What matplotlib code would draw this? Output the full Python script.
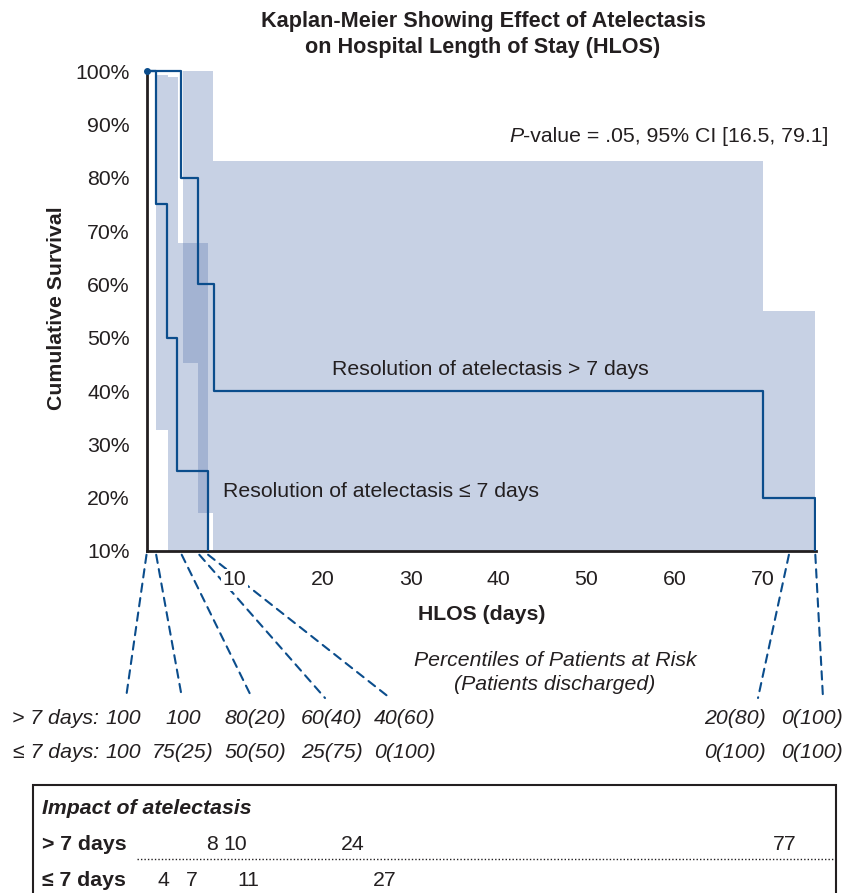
import matplotlib
matplotlib.use("Agg")
import matplotlib.pyplot as plt
from matplotlib.patches import Rectangle, ConnectionPatch
from matplotlib.lines import Line2D

plt.rcParams['font.family'] = ['Liberation Sans', 'DejaVu Sans']

# ---- data -------------------------------------------------------------
# Kaplan-Meier steps (days, % survival)
gt7_t = [0, 3.95, 5.85, 7.65, 70.0, 76.0]
gt7_s = [100, 80, 60, 40, 20, 0]
le7_t = [0, 1.1, 2.35, 3.5, 7.0]
le7_s = [100, 75, 50, 25, 0]

# 95% CI bands (start of each step, lower, upper)
gt7_ci_t = [4.15, 5.85, 7.55, 70.0, 76.0]
gt7_ci_lo = [45.3, 17.1, 0, 0]
gt7_ci_hi = [100, 100, 83.1, 55.0]
le7_ci_t = [1.1, 2.45, 3.6, 7.0]
le7_ci_lo = [32.7, 0, 0]
le7_ci_hi = [99.3, 98.8, 67.7]

# patients at risk, linked to these days
risk_days = [0, 1.1, 4.0, 6.0, 7.0, 73.0, 76.0]
gt7_risk = ["100", "100", "80(20)", "60(40)", "40(60)", "20(80)", "0(100)"]
le7_risk = ["100", "75(25)", "50(50)", "25(75)", "0(100)", "0(100)", "0(100)"]

# impact table
gt7_impact = ["8", "10", "24", "77"]
le7_impact = ["4", "7", "11", "27"]

yticks = [10, 20, 30, 40, 50, 60, 70, 80, 90, 100]
xticks = [10, 20, 30, 40, 50, 60, 70]

# ---- styling ----------------------------------------------------------
W, H = 849, 893
line_c = '#0b4d8c'
band_c = '#5f7ab1'
txt_c = '#231f20'
fs = 15.3


def fx(px):
    return px / W


def fy(py):
    return 1 - py / H


fig = plt.figure(figsize=(W / 100, H / 100), dpi=100)
ax = fig.add_axes([fx(146.5), fy(551), 669.7 / W, (551 - 65.7) / H])
ax.set_xlim(0, 76.1)
ax.set_ylim(10, 101)

# CI bands
ax.fill_between(gt7_ci_t, gt7_ci_lo + [gt7_ci_lo[-1]], gt7_ci_hi + [gt7_ci_hi[-1]],
                step='post', color=band_c, alpha=0.345, lw=0)
ax.fill_between(le7_ci_t, le7_ci_lo + [le7_ci_lo[-1]], le7_ci_hi + [le7_ci_hi[-1]],
                step='post', color=band_c, alpha=0.345, lw=0)

# survival curves
ax.step(gt7_t, gt7_s, where='post', color=line_c, lw=1.6, zorder=3)
ax.step(le7_t, le7_s, where='post', color=line_c, lw=1.6, zorder=3)
ax.plot([0], [100], 'o', color=line_c, ms=4, zorder=4, clip_on=False)

for s in ['top', 'right']:
    ax.spines[s].set_visible(False)
for s in ['left', 'bottom']:
    ax.spines[s].set_linewidth(2)
    ax.spines[s].set_color(txt_c)
ax.spines['left'].set_bounds(10, 100)

ax.set_yticks(yticks)
ax.set_yticklabels([f"{v}%" for v in yticks])
ax.set_xticks(xticks)
ax.set_xticklabels([str(v) for v in xticks])
ax.tick_params(axis='both', length=0, labelsize=fs, colors=txt_c)
ax.tick_params(axis='y', pad=12)
ax.tick_params(axis='x', pad=14)
for lbl in ax.get_xticklabels():
    lbl.set_bbox(dict(facecolor='white', edgecolor='none', pad=1))

ax.set_xlabel('HLOS (days)', fontsize=fs, weight='bold', color=txt_c, labelpad=11)
ax.set_ylabel('Cumulative Survival', fontsize=fs, weight='bold', color=txt_c, labelpad=7)

ax.text(21.1, 44.1, 'Resolution of atelectasis > 7 days', fontsize=fs, color=txt_c, va='center')
ax.text(8.7, 21.1, 'Resolution of atelectasis \u2264 7 days', fontsize=fs, color=txt_c, va='center')

# title and p-value
fig.text(fx(483), fy(21), 'Kaplan-Meier Showing Effect of Atelectasis', ha='center', va='center',
         fontsize=15.6, weight='bold', color=txt_c)
fig.text(fx(483), fy(48), 'on Hospital Length of Stay (HLOS)', ha='center', va='center',
         fontsize=15.6, weight='bold', color=txt_c)
fig.text(fx(523), fy(137), 'P', ha='right', va='center', fontsize=fs, style='italic', color=txt_c)
fig.text(fx(523), fy(137), '-value = .05, 95% CI [16.5, 79.1]', ha='left', va='center',
         fontsize=fs, color=txt_c)

# patients at risk
fig.text(fx(555), fy(660), 'Percentiles of Patients at Risk', ha='center', va='center',
         fontsize=fs, style='italic', color=txt_c)
fig.text(fx(555), fy(685), '(Patients discharged)', ha='center', va='center',
         fontsize=fs, style='italic', color=txt_c)

col_x = [123, 183, 255, 332, 405, 735, 812]
end_x = [126, 182, 252, 325, 390, 758, 823]
fig.text(fx(99), fy(719), '> 7 days:', ha='right', va='center', fontsize=fs, style='italic', color=txt_c)
fig.text(fx(99), fy(753), '\u2264 7 days:', ha='right', va='center', fontsize=fs, style='italic', color=txt_c)
for cx, a, b in zip(col_x, gt7_risk, le7_risk):
    fig.text(fx(cx), fy(719), a, ha='center', va='center', fontsize=fs, style='italic', color=txt_c)
    fig.text(fx(cx), fy(753), b, ha='center', va='center', fontsize=fs, style='italic', color=txt_c)

for d, ex in zip(risk_days, end_x):
    con = ConnectionPatch(xyA=(d, 9.3), coordsA=ax.transData,
                          xyB=(fx(ex), fy(698)), coordsB=fig.transFigure,
                          color=line_c, lw=1.5, ls=(0, (4, 3)), zorder=1, clip_on=False)
    ax.add_artist(con)

# impact table
fig.patches.append(Rectangle((fx(33), fy(900)), fx(836) - fx(33), fy(785) - fy(900),
                             transform=fig.transFigure, fill=False, ec=txt_c, lw=1.5))
fig.lines.append(Line2D([fx(137), fx(836)], [fy(859), fy(859)], transform=fig.transFigure,
                        color=txt_c, lw=1, ls=(0, (1, 1.5))))
fig.text(fx(42), fy(808), 'Impact of atelectasis', ha='left', va='center', fontsize=fs,
         weight='bold', style='italic', color=txt_c)
fig.text(fx(42), fy(845), '> 7 days', ha='left', va='center', fontsize=fs, weight='bold', color=txt_c)
fig.text(fx(42), fy(880), '\u2264 7 days', ha='left', va='center', fontsize=fs, weight='bold', color=txt_c)
for v, px in zip(gt7_impact, [212, 235, 353, 785]):
    fig.text(fx(px), fy(845), v, ha='center', va='center', fontsize=fs, color=txt_c)
for v, px in zip(le7_impact, [163, 192, 248, 385]):
    fig.text(fx(px), fy(880), v, ha='center', va='center', fontsize=fs, color=txt_c)

fig.savefig('out.png', dpi=100)
